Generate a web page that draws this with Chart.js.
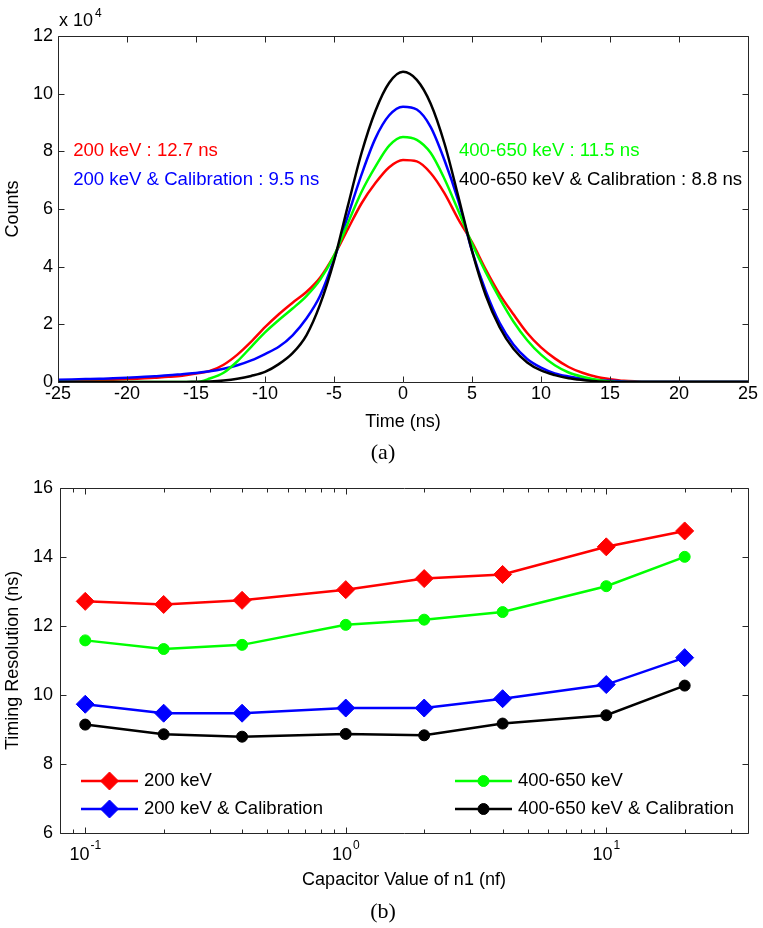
<!DOCTYPE html>
<html>
<head>
<meta charset="utf-8">
<script src="https://cdn.jsdelivr.net/npm/chart.js@4.4.1/dist/chart.umd.min.js"></script>
<style>
  html, body { margin: 0; padding: 0; background: #fff; }
  .box { position: absolute; left: 0; width: 763px; }
</style>
</head>
<body>
<div class="box" style="top:0;height:470px"><canvas id="spectrum"></canvas></div>
<div class="box" style="top:470px;height:458px"><canvas id="resolution"></canvas></div>
<script>
// ---- (a) timing spectra, counts in units of 1e4 ----
const timeNs = [-25, -24, -23, -22, -21, -20, -19, -18, -17, -16, -15, -14, -13, -12, -11, -10, -9, -8, -7, -6, -5, -4, -3, -2, -1,
  0, 1, 2, 3, 4, 5, 6, 7, 8, 9, 10, 11, 12, 13, 14, 15, 16, 17, 18, 19, 20, 21, 22, 23, 24, 25];
const counts200 = [0.03, 0.04, 0.05, 0.06, 0.08, 0.10, 0.12, 0.15, 0.18, 0.22, 0.29, 0.38, 0.60, 0.95, 1.40, 1.90, 2.35, 2.75, 3.12, 3.62, 4.38, 5.30, 6.20, 6.90, 7.45,
  7.70, 7.65, 7.25, 6.55, 5.65, 4.85, 3.90, 3.05, 2.35, 1.70, 1.20, 0.82, 0.52, 0.32, 0.18, 0.10, 0.04, 0.02, 0.01, 0.01, 0.01, 0.01, 0.01, 0.01, 0.01, 0.01];
const counts200Cal = [0.08, 0.09, 0.10, 0.11, 0.13, 0.15, 0.17, 0.20, 0.23, 0.27, 0.31, 0.37, 0.46, 0.58, 0.75, 0.97, 1.22, 1.62, 2.20, 3.00, 4.25, 5.75, 7.20, 8.45, 9.25,
  9.55, 9.45, 8.85, 7.70, 6.30, 4.55, 3.15, 2.05, 1.30, 0.80, 0.50, 0.30, 0.19, 0.11, 0.07, 0.04, 0.02, 0.01, 0.01, 0.01, 0.01, 0.01, 0.01, 0.01, 0.01, 0.01];
const counts400 = [0, 0, 0, 0, 0, 0, 0, 0, 0, 0, 0, 0.12, 0.32, 0.72, 1.22, 1.72, 2.15, 2.55, 2.98, 3.55, 4.38, 5.50, 6.60, 7.47, 8.20,
  8.50, 8.40, 7.95, 7.05, 5.95, 4.80, 3.80, 2.90, 2.10, 1.45, 0.95, 0.58, 0.33, 0.18, 0.08, 0.02, 0, 0, 0, 0, 0, 0, 0, 0, 0, 0];
const counts400Cal = [0, 0, 0, 0, 0, 0, 0, 0, 0, 0, 0.01, 0.02, 0.05, 0.11, 0.21, 0.35, 0.62, 1.00, 1.62, 2.70, 4.20, 6.10, 7.95, 9.40, 10.38,
  10.76, 10.48, 9.66, 8.28, 6.45, 4.55, 3.00, 1.90, 1.15, 0.68, 0.40, 0.24, 0.13, 0.07, 0.03, 0.01, 0, 0, 0, 0, 0, 0, 0, 0, 0, 0];
const timeTicks = [-25, -20, -15, -10, -5, 0, 5, 10, 15, 20, 25];
const countTicks = [0, 2, 4, 6, 8, 10, 12];
const spectrumNotes = ['200 keV : 12.7 ns', '200 keV & Calibration : 9.5 ns', '400-650 keV : 11.5 ns', '400-650 keV & Calibration : 8.8 ns'];
const noteTime = [-23.9, -23.9, 4.05, 4.05];
const noteCount = [8, 7, 8, 7];

// ---- (b) timing resolution vs capacitor ----
const capNf = [0.1, 0.2, 0.4, 1, 2, 4, 10, 20];
const res200 = [12.71, 12.62, 12.74, 13.05, 13.37, 13.49, 14.29, 14.75];
const res200Cal = [9.73, 9.47, 9.47, 9.62, 9.62, 9.89, 10.30, 11.08];
const res400 = [11.58, 11.33, 11.45, 12.03, 12.18, 12.40, 13.15, 14.00];
const res400Cal = [9.14, 8.86, 8.79, 8.87, 8.83, 9.17, 9.41, 10.27];
const capTicks = [0.08, 0.09, 0.1, 0.2, 0.3, 0.4, 0.5, 0.6, 0.7, 0.8, 0.9, 1, 2, 3, 4, 5, 6, 7, 8, 9, 10, 20, 30];
const capDecades = [0.1, 1, 10];
const resTicks = [6, 8, 10, 12, 14, 16];

const RED = '#ff0000', GREEN = '#00ff00', BLUE = '#0000ff', BLACK = '#000000';
const SANS = '"Liberation Sans", Arial, sans-serif';

Chart.defaults.font.family = SANS;
Chart.defaults.font.size = 18;
Chart.defaults.color = '#000';
Chart.defaults.animation = false;

const setTicks = (vals, majors) => (scale) => {
  scale.ticks = vals.map((v) => ({ value: v, major: majors ? majors.includes(v) : true }));
};

// matlab style box with inward ticks on all four sides
const framePlugin = {
  id: 'frame',
  afterDatasetsDraw(chart) {
    const { ctx, chartArea: a, scales: { x, y } } = chart;
    const l = Math.round(a.left) + 0.5, r = Math.round(a.right) + 0.5;
    const t = Math.round(a.top) + 0.5, b = Math.round(a.bottom) + 0.5;
    ctx.save();
    ctx.strokeStyle = '#262626';
    ctx.lineWidth = 1;
    ctx.beginPath();
    x.ticks.forEach((tk) => {
      const px = Math.round(x.getPixelForValue(tk.value)) + 0.5;
      const len = tk.major ? 6 : 4;
      ctx.moveTo(px, b); ctx.lineTo(px, b - len);
      ctx.moveTo(px, t); ctx.lineTo(px, t + len);
    });
    y.ticks.forEach((tk) => {
      const py = Math.round(y.getPixelForValue(tk.value)) + 0.5;
      ctx.moveTo(l, py); ctx.lineTo(l + 6, py);
      ctx.moveTo(r, py); ctx.lineTo(r - 6, py);
    });
    ctx.rect(l, t, r - l, b - t);
    ctx.stroke();
    ctx.restore();
  },
};

const spectrumText = {
  id: 'spectrumText',
  afterDraw(chart) {
    const { ctx, chartArea: a, scales: { x, y } } = chart;
    ctx.save();
    ctx.textBaseline = 'middle';
    ctx.textAlign = 'left';
    ctx.font = '18.6px ' + SANS;
    const cols = [RED, BLUE, GREEN, BLACK];
    spectrumNotes.forEach((txt, i) => {
      ctx.fillStyle = cols[i];
      ctx.fillText(txt, x.getPixelForValue(noteTime[i]), y.getPixelForValue(noteCount[i]));
    });
    ctx.fillStyle = '#000';
    ctx.font = '18px ' + SANS;
    ctx.fillText('x 10', a.left + 1, 21);
    const w = ctx.measureText('x 10').width;
    ctx.font = '12px ' + SANS;
    ctx.fillText('4', a.left + 3 + w, 14);
    ctx.textAlign = 'center';
    ctx.font = '22px "Liberation Serif", "Times New Roman", serif';
    ctx.fillText('(a)', 383, 453);
    ctx.restore();
  },
};

const spectrumSet = (label, vals, color, order) => ({
  label,
  data: timeNs.map((t, i) => ({ x: t, y: vals[i] })),
  borderColor: color,
  backgroundColor: color,
  borderWidth: 2.5,
  pointRadius: 0,
  cubicInterpolationMode: 'monotone',
  order,
});

new Chart(document.getElementById('spectrum'), {
  type: 'line',
  data: {
    datasets: [
      spectrumSet('200 keV', counts200, RED, 3),
      spectrumSet('200 keV & Calibration', counts200Cal, BLUE, 2),
      spectrumSet('400-650 keV', counts400, GREEN, 1),
      spectrumSet('400-650 keV & Calibration', counts400Cal, BLACK, 0),
    ],
  },
  options: {
    responsive: true,
    maintainAspectRatio: false,
    devicePixelRatio: 1,
    layout: { padding: { top: 36, right: 15, left: 0, bottom: 0 } },
    plugins: { legend: { display: false }, tooltip: { enabled: false } },
    scales: {
      x: {
        type: 'linear', min: -25, max: 25,
        afterBuildTicks: setTicks(timeTicks),
        afterFit: (s) => { s.height = 88; },
        grid: { display: false, drawTicks: false },
        border: { display: false },
        ticks: { padding: 1, maxRotation: 0, autoSkip: false },
        title: { display: true, text: 'Time (ns)', font: { size: 18 }, padding: { top: 0, bottom: 37 } },
      },
      y: {
        min: 0, max: 12,
        afterBuildTicks: setTicks(countTicks),
        afterFit: (s) => { s.width = 58; },
        grid: { display: false, drawTicks: false },
        border: { display: false },
        ticks: { padding: 5 },
        title: { display: true, text: 'Counts', font: { size: 18 }, padding: { top: 2, bottom: 0 } },
      },
    },
  },
  plugins: [framePlugin, spectrumText],
});

// ---- chart (b) ----
const resolutionText = {
  id: 'resolutionText',
  afterDraw(chart) {
    const { ctx, chartArea: a, scales: { x } } = chart;
    ctx.save();
    ctx.fillStyle = '#000';
    ctx.textBaseline = 'middle';
    ctx.textAlign = 'left';
    // decade labels with superscript exponents
    x.ticks.filter((tk) => tk.major).forEach((tk) => {
      const exp = String(Math.round(Math.log10(tk.value)));
      ctx.font = '18px ' + SANS;
      const wb = ctx.measureText('10').width;
      ctx.font = '12px ' + SANS;
      const we = ctx.measureText(exp).width;
      const x0 = x.getPixelForValue(tk.value) - (wb + 1 + we) / 2;
      ctx.font = '18px ' + SANS;
      ctx.fillText('10', x0, a.bottom + 22);
      ctx.font = '12px ' + SANS;
      ctx.fillText(exp, x0 + wb + 1, a.bottom + 13);
    });
    // legend, two columns inside the axes
    const slots = [[81, 311], [81, 339], [455, 311], [455, 339]];
    chart.data.datasets.forEach((ds, i) => {
      const [lx, ly] = slots[i];
      ctx.strokeStyle = ds.borderColor;
      ctx.fillStyle = ds.borderColor;
      ctx.lineWidth = ds.borderWidth;
      ctx.beginPath();
      ctx.moveTo(lx, ly);
      ctx.lineTo(lx + 57, ly);
      ctx.stroke();
      ctx.lineWidth = 1;
      Chart.helpers.drawPoint(ctx, { pointStyle: ds.pointStyle, radius: ds.pointRadius, rotation: 0, borderWidth: 1 }, lx + 28.5, ly);
      ctx.fillStyle = '#000';
      ctx.font = '18.5px ' + SANS;
      ctx.fillText(ds.label, lx + 63, ly);
    });
    ctx.textAlign = 'center';
    ctx.font = '22px "Liberation Serif", "Times New Roman", serif';
    ctx.fillText('(b)', 383, 442);
    ctx.restore();
  },
};

const resSet = (label, vals, color, style, radius, order) => ({
  label,
  data: capNf.map((c, i) => ({ x: c, y: vals[i] })),
  borderColor: color,
  backgroundColor: color,
  borderWidth: 2.5,
  pointStyle: style,
  pointRadius: radius,
  pointBorderWidth: 1,
  tension: 0,
  order,
});

new Chart(document.getElementById('resolution'), {
  type: 'line',
  data: {
    datasets: [
      resSet('200 keV', res200, RED, 'rectRot', 9, 3),
      resSet('200 keV & Calibration', res200Cal, BLUE, 'rectRot', 9, 2),
      resSet('400-650 keV', res400, GREEN, 'circle', 5.5, 1),
      resSet('400-650 keV & Calibration', res400Cal, BLACK, 'circle', 5.5, 0),
    ],
  },
  options: {
    responsive: true,
    maintainAspectRatio: false,
    devicePixelRatio: 1,
    layout: { padding: { top: 17, right: 15, left: 0, bottom: 0 } },
    plugins: { legend: { display: false }, tooltip: { enabled: false } },
    scales: {
      x: {
        type: 'logarithmic', min: 0.08, max: 35,
        afterBuildTicks: setTicks(capTicks, capDecades),
        afterFit: (s) => { s.height = 95; },
        grid: { display: false, drawTicks: false },
        border: { display: false },
        ticks: { display: false },
        title: { display: true, text: 'Capacitor Value of n1 (nf)', font: { size: 18 }, padding: { top: 0, bottom: 37 } },
      },
      y: {
        min: 6, max: 16,
        afterBuildTicks: setTicks(resTicks),
        afterFit: (s) => { s.width = 60; },
        grid: { display: false, drawTicks: false },
        border: { display: false },
        ticks: { padding: 7 },
        title: { display: true, text: 'Timing Resolution (ns)', font: { size: 18 }, padding: { top: 2, bottom: 0 } },
      },
    },
  },
  plugins: [framePlugin, resolutionText],
});
</script>
</body>
</html>
